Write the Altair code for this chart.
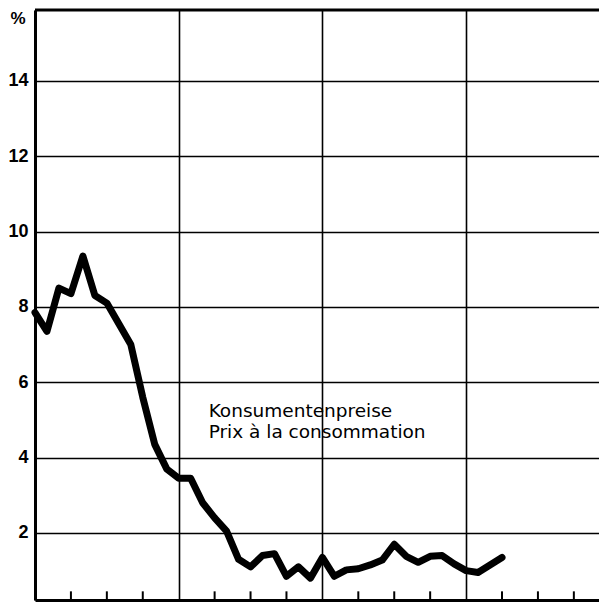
import altair as alt
import pandas as pd

# Monthly consumer price inflation (%), month index from first year start
months = list(range(40))
values = [7.85, 7.35, 8.5, 8.35, 9.35, 8.3, 8.1, 7.55, 7.0, 5.6,
          4.35, 3.7, 3.45, 3.45, 2.8, 2.4, 2.05, 1.3, 1.1, 1.4,
          1.45, 0.85, 1.1, 0.8, 1.35, 0.85, 1.02, 1.05, 1.15, 1.28,
          1.7, 1.38, 1.22, 1.38, 1.4, 1.18, 1.0, 0.95, 1.15, 1.35]

year_lines = [0, 12, 24, 36]
quarter_ticks = [3, 6, 9, 15, 18, 21, 27, 30, 33, 39, 42, 45]
y_ticks = [2, 4, 6, 8, 10, 12, 14]

label_lines = ["Konsumentenpreise", "Prix à la consommation"]
label_x = [14.5, 14.5]
label_y = [5.07, 4.53]

df = pd.DataFrame({"month": months, "value": values})
ticks_df = pd.DataFrame({"month": quarter_ticks, "y0": [0.0] * len(quarter_ticks),
                         "y1": [0.45] * len(quarter_ticks)})
lab_df = pd.DataFrame({"x": label_x, "y": label_y, "t": label_lines})

W, H = 564, 590
xscale = alt.Scale(domain=[0, 47.1], nice=False, zero=False)
yscale = alt.Scale(domain=[0.22, 15.88], nice=False, zero=False)

xaxis = alt.Axis(values=year_lines, labels=False, ticks=False, domain=True,
                 domainColor="black", domainWidth=3,
                 grid=True, gridColor="black", gridWidth=1.6, gridOpacity=1, title=None)
yaxis = alt.Axis(values=y_ticks, labelFont="Liberation Sans", labelFontSize=18,
                 labelFontWeight="bold", labelColor="black", labelPadding=7,
                 ticks=False, domain=True, domainColor="black", domainWidth=3,
                 grid=True, gridColor="black",
                 gridWidth=1.6, gridOpacity=1, title=None)

line = alt.Chart(df).mark_line(color="black", strokeWidth=7, strokeJoin="round",
                               strokeCap="round").encode(
    x=alt.X("month:Q", scale=xscale, axis=xaxis),
    y=alt.Y("value:Q", scale=yscale, axis=yaxis),
)

ticks = alt.Chart(ticks_df).mark_rule(color="black", strokeWidth=2, clip=True).encode(
    x=alt.X("month:Q", scale=xscale),
    y=alt.Y("y0:Q", scale=yscale),
    y2="y1:Q",
)

top = alt.Chart(pd.DataFrame({"t": [0]})).mark_rule(color="black", strokeWidth=3).encode(
    x=alt.value(0), x2=alt.value(W), y=alt.value(0))

pct = alt.Chart(pd.DataFrame({"t": ["%"]})).mark_text(
    font="Liberation Sans", fontSize=17, fontWeight="bold", color="black",
    align="center", baseline="alphabetic").encode(
    x=alt.value(-17), y=alt.value(14), text="t:N")

labels = alt.Chart(lab_df).mark_text(
    font="DejaVu Sans", fontSize=18.5, color="black", align="left",
    baseline="alphabetic").encode(
    x=alt.X("x:Q", scale=xscale), y=alt.Y("y:Q", scale=yscale), text="t:N")

chart = alt.layer(line, ticks, top, pct, labels).properties(
    width=W, height=H,
    padding={"left": 27, "top": 2, "right": 0, "bottom": 2},
    autosize=alt.AutoSizeParams(type="none"),
    background="white",
).configure_view(stroke=None)

chart.save("out.html", embed_options={"renderer": "svg", "actions": False})
